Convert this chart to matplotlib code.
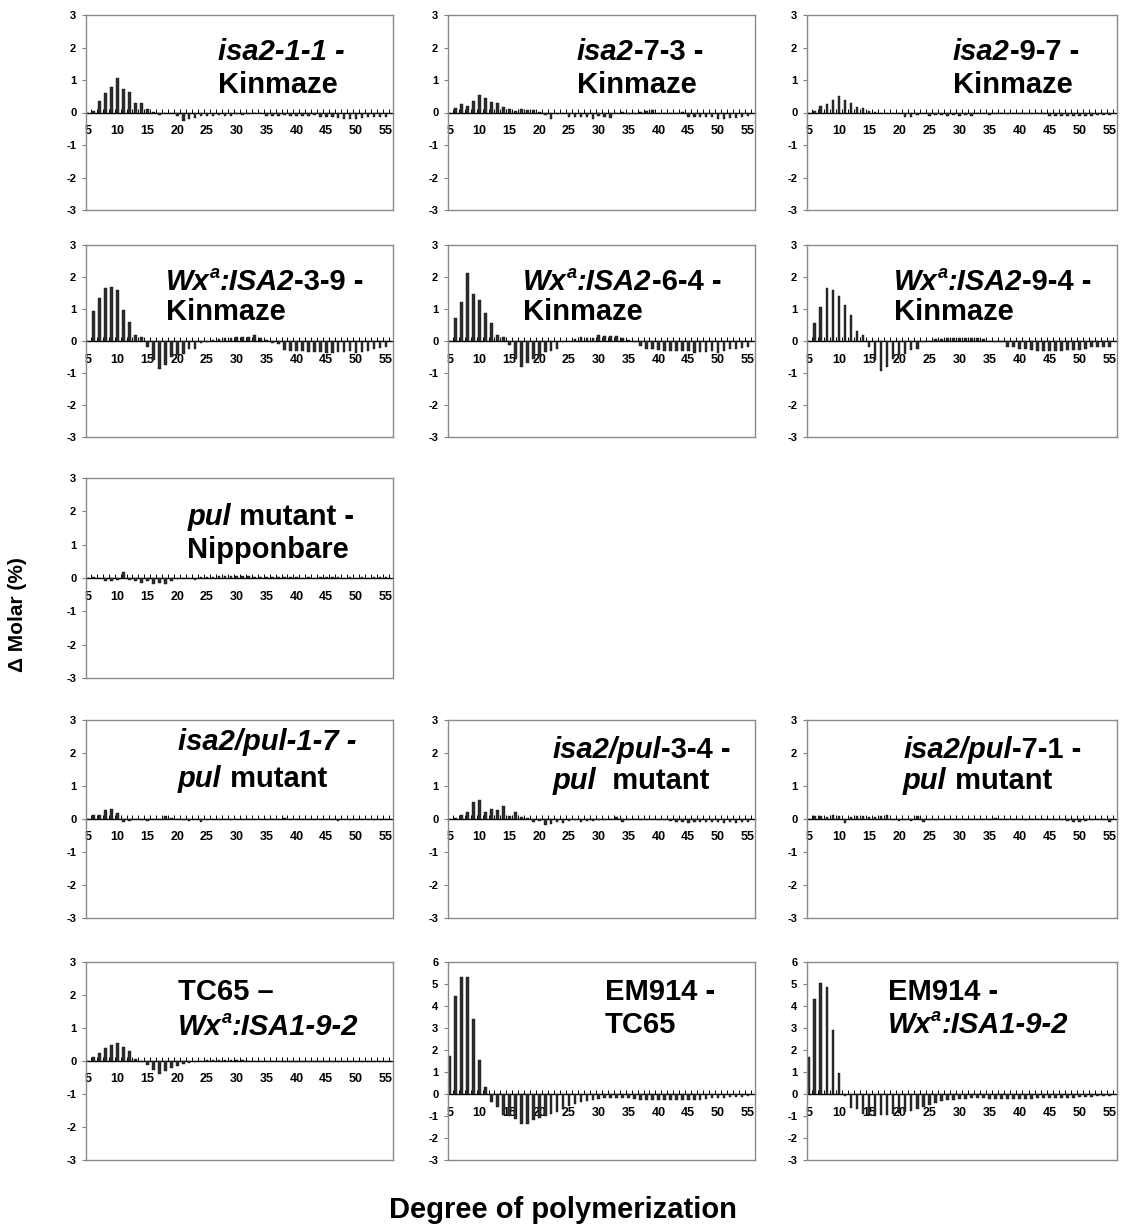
import numpy as np
import matplotlib.pyplot as plt

plt.rcParams['font.family'] = ['Liberation Sans', 'DejaVu Sans']
plt.rcParams['axes.unicode_minus'] = False

# degree of polymerization (x categories)
dp = np.arange(5, 56)

# delta molar (%) for DP 5..55
isa2_1_1 = [0.0,
            0.05, 0.35, 0.6, 0.8, 1.07, 0.72, 0.62, 0.28, 0.28, 0.12,
            0.02, -0.07, 0.0, 0.0, -0.1, -0.25, -0.2, -0.18, -0.12, -0.1,
            -0.12, -0.08, -0.12, -0.1, -0.05, -0.08, -0.05, -0.03, -0.02, -0.12,
            -0.1, -0.12, -0.08, -0.1, -0.1, -0.12, -0.1, -0.08, -0.15, -0.15,
            -0.15, -0.18, -0.2, -0.2, -0.2, -0.18, -0.15, -0.15, -0.15, -0.15]
isa2_7_3 = [0.0,
            0.15, 0.25, 0.2, 0.35, 0.55, 0.45, 0.32, 0.28, 0.18, 0.1,
            0.05, 0.1, 0.08, 0.08, 0.02, -0.08, -0.2, -0.05, 0.0, -0.15,
            -0.15, -0.15, -0.15, -0.2, -0.12, -0.15, -0.18, 0.0, 0.02, -0.05,
            -0.05, 0.02, 0.05, 0.08, -0.02, 0.0, -0.02, -0.02, 0.02, -0.15,
            -0.15, -0.15, -0.15, -0.15, -0.2, -0.2, -0.18, -0.18, -0.15, -0.12]
isa2_9_7 = [0.0,
            0.05, 0.2, 0.25, 0.38, 0.52, 0.4, 0.3, 0.18, 0.15, 0.05,
            0.02, 0.0, 0.0, 0.0, -0.02, -0.15, -0.15, -0.08, -0.02, -0.1,
            -0.08, -0.08, -0.1, -0.08, -0.1, -0.08, -0.1, -0.02, -0.02, -0.08,
            -0.05, -0.02, -0.05, -0.02, -0.05, -0.05, -0.05, -0.02, -0.05, -0.1,
            -0.1, -0.1, -0.12, -0.12, -0.12, -0.1, -0.1, -0.08, -0.08, -0.08]
wx_isa2_3_9 = [0.0,
               0.95, 1.35, 1.65, 1.7, 1.58, 0.98, 0.6, 0.2, 0.12, -0.2,
               -0.6, -0.88, -0.75, -0.5, -0.45, -0.4, -0.25, -0.25, -0.05, -0.02,
               0.02, 0.05, 0.1, 0.1, 0.12, 0.12, 0.12, 0.2, 0.1, 0.02,
               -0.05, -0.1, -0.28, -0.3, -0.3, -0.3, -0.35, -0.35, -0.35, -0.38,
               -0.38, -0.35, -0.35, -0.3, -0.38, -0.35, -0.3, -0.25, -0.22, -0.2]
wx_isa2_6_4 = [0.0,
               0.72, 1.22, 2.12, 1.48, 1.28, 0.88, 0.55, 0.2, 0.12, -0.12,
               -0.55, -0.82, -0.7, -0.55, -0.5, -0.35, -0.3, -0.25, -0.02, 0.0,
               0.05, 0.12, 0.1, 0.1, 0.18, 0.15, 0.15, 0.15, 0.08, 0.02,
               -0.02, -0.15, -0.25, -0.25, -0.28, -0.3, -0.32, -0.32, -0.32, -0.32,
               -0.38, -0.35, -0.35, -0.32, -0.38, -0.3, -0.25, -0.25, -0.22, -0.2]
wx_isa2_9_4 = [0.0,
               0.55, 1.05, 1.65, 1.6, 1.42, 1.12, 0.82, 0.32, 0.18, -0.18,
               -0.6, -0.95, -0.8, -0.55, -0.45, -0.4, -0.28, -0.25, -0.02, 0.0,
               0.05, 0.05, 0.08, 0.08, 0.1, 0.08, 0.08, 0.08, 0.05, 0.0,
               -0.02, -0.02, -0.2, -0.2, -0.25, -0.25, -0.28, -0.3, -0.3, -0.3,
               -0.32, -0.3, -0.28, -0.28, -0.28, -0.25, -0.2, -0.2, -0.18, -0.18]
pul_nip = [0.0,
           0.02, 0.0, -0.08, -0.08, -0.05, 0.18, -0.05, -0.1, -0.15, -0.1,
           -0.18, -0.15, -0.18, -0.08, -0.03, 0.0, 0.0, -0.05, 0.02, 0.02,
           0.02, 0.06, 0.05, 0.05, 0.05, 0.05, 0.05, 0.03, 0.02, 0.03,
           0.02, 0.02, 0.02, 0.02, 0.02, 0.0, 0.02, 0.0, 0.02, 0.02,
           0.02, 0.02, 0.0, 0.02, 0.0, 0.02, 0.0, 0.03, 0.03, 0.02]
isa2_pul_1_7 = [0.0,
                0.12, 0.12, 0.28, 0.3, 0.18, -0.08, -0.05, 0.0, -0.02, -0.05,
                0.0, 0.0, 0.08, 0.02, 0.0, -0.02, -0.05, 0.0, -0.08, -0.03,
                0.0, 0.0, 0.0, -0.02, 0.0, 0.0, 0.0, 0.0, 0.0, 0.0,
                0.0, 0.0, 0.02, 0.0, 0.0, 0.0, 0.0, 0.0, 0.0, 0.0,
                0.0, -0.05, 0.0, -0.03, 0.0, 0.0, 0.0, -0.02, 0.0, 0.0]
isa2_pul_3_4 = [0.0,
                0.02, 0.12, 0.2, 0.52, 0.58, 0.22, 0.3, 0.28, 0.38, 0.1,
                0.22, 0.05, 0.02, -0.08, -0.05, -0.18, -0.15, -0.1, -0.12, -0.05,
                -0.02, -0.08, -0.05, -0.05, -0.03, -0.02, 0.0, 0.05, -0.08, -0.02,
                0.0, -0.02, -0.02, 0.0, -0.03, -0.03, -0.05, -0.1, -0.1, -0.12,
                -0.1, -0.1, -0.08, -0.1, -0.1, -0.12, -0.1, -0.12, -0.1, -0.1]
isa2_pul_7_1 = [0.0,
                0.08, 0.08, 0.05, 0.12, 0.08, -0.12, 0.05, 0.08, 0.1, 0.05,
                0.06, 0.08, 0.12, -0.02, -0.05, -0.02, -0.05, 0.08, -0.08, -0.02,
                -0.03, 0.0, 0.0, 0.0, 0.0, 0.0, 0.0, 0.0, 0.0, 0.0,
                0.02, 0.0, 0.0, 0.0, 0.0, -0.02, 0.0, 0.0, 0.0, 0.0,
                -0.03, -0.03, -0.05, -0.08, -0.08, -0.05, -0.03, 0.0, -0.03, -0.08]
tc65_wx_isa1 = [0.0,
                0.12, 0.25, 0.38, 0.5, 0.55, 0.42, 0.3, 0.05, -0.02, -0.12,
                -0.28, -0.38, -0.3, -0.2, -0.15, -0.08, -0.05, -0.02, 0.0, 0.02,
                0.02, 0.02, 0.02, 0.02, 0.02, 0.02, 0.0, 0.0, 0.0, 0.0,
                0.0, 0.0, -0.02, -0.02, -0.02, -0.02, -0.02, -0.02, -0.02, -0.02,
                -0.02, -0.02, -0.02, -0.02, -0.02, -0.02, -0.02, -0.02, -0.02, -0.02]
em914_tc65 = [1.72,
              4.45, 5.3, 5.3, 3.43, 1.55, 0.33, -0.35, -0.6, -0.95, -1.0,
              -1.15, -1.35, -1.35, -1.2, -1.1, -1.0, -0.9, -0.8, -0.7, -0.55,
              -0.45, -0.35, -0.3, -0.25, -0.22, -0.2, -0.2, -0.18, -0.18, -0.2,
              -0.22, -0.25, -0.25, -0.28, -0.28, -0.28, -0.28, -0.28, -0.28, -0.25,
              -0.25, -0.25, -0.22, -0.2, -0.2, -0.18, -0.15, -0.12, -0.12, -0.1]
em914_wx_isa1 = [1.7,
                 4.3, 5.05, 4.85, 2.9, 0.95, -0.1, -0.65, -0.7, -0.9, -0.95,
                 -1.0, -0.95, -0.95, -0.9, -0.85, -0.8, -0.75, -0.7, -0.6, -0.5,
                 -0.4, -0.32, -0.28, -0.25, -0.22, -0.22, -0.2, -0.2, -0.2, -0.22,
                 -0.22, -0.22, -0.22, -0.22, -0.22, -0.22, -0.22, -0.2, -0.2, -0.2,
                 -0.2, -0.18, -0.18, -0.18, -0.15, -0.15, -0.12, -0.1, -0.1, -0.1]

# panel titles: segments of (text, style) -> i = italic, n = normal, s = superscript
titles = [
    ([("isa2-1-1 -", "i")], [("Kinmaze", "n")]),
    ([("isa2", "i"), ("-7-3 -", "n")], [("Kinmaze", "n")]),
    ([("isa2", "i"), ("-9-7 -", "n")], [("Kinmaze", "n")]),
    ([("Wx", "i"), ("a", "s"), (":ISA2", "i"), ("-3-9 -", "n")], [("Kinmaze", "n")]),
    ([("Wx", "i"), ("a", "s"), (":ISA2", "i"), ("-6-4 -", "n")], [("Kinmaze", "n")]),
    ([("Wx", "i"), ("a", "s"), (":ISA2", "i"), ("-9-4 -", "n")], [("Kinmaze", "n")]),
    ([("pul", "i"), (" mutant -", "n")], [("Nipponbare", "n")]),
    ([("isa2/pul-1-7 -", "i")], [("pul", "i"), (" mutant", "n")]),
    ([("isa2/pul", "i"), ("-3-4 -", "n")], [("pul", "i"), ("  mutant", "n")]),
    ([("isa2/pul", "i"), ("-7-1 -", "n")], [("pul", "i"), (" mutant", "n")]),
    ([("TC65 \u2013", "n")], [("Wx", "i"), ("a", "s"), (":ISA1-9-2", "i")]),
    ([("EM914 -", "n")], [("TC65", "n")]),
    ([("EM914 -", "n")], [("Wx", "i"), ("a", "s"), (":ISA1-9-2", "i")]),
]
series = [isa2_1_1, isa2_7_3, isa2_9_7, wx_isa2_3_9, wx_isa2_6_4, wx_isa2_9_4,
          pul_nip, isa2_pul_1_7, isa2_pul_3_4, isa2_pul_7_1,
          tc65_wx_isa1, em914_tc65, em914_wx_isa1]
grid_pos = [(0, 0), (0, 1), (0, 2), (1, 0), (1, 1), (1, 2), (2, 0),
            (3, 0), (3, 1), (3, 2), (4, 0), (4, 1), (4, 2)]
ymax = [3] * 11 + [6, 6]
# title placement (axes fraction): x, baseline line 1, baseline line 2
title_xy = [(0.43, 0.77, 0.60), (0.42, 0.77, 0.60), (0.47, 0.77, 0.60),
            (0.26, 0.765, 0.61), (0.245, 0.765, 0.61), (0.28, 0.765, 0.61),
            (0.33, 0.765, 0.60),
            (0.30, 0.85, 0.66), (0.34, 0.81, 0.65), (0.31, 0.81, 0.65),
            (0.30, 0.81, 0.63), (0.51, 0.81, 0.64), (0.26, 0.81, 0.64)]

W, H = 1125, 1229
fig = plt.figure(figsize=(W / 100, H / 100), dpi=100)
col_px = [(86, 393), (448, 755), (807, 1117)]
row_px = [(15, 210), (245, 437), (478, 678), (720, 918), (962, 1160)]

TSIZE = 21
renderer = fig.canvas.get_renderer()


def rich_line(ax, x, y, segs):
    for txt, st in segs:
        size = TSIZE * 0.62 if st == "s" else TSIZE
        yy = y + (TSIZE * 0.42 / 72 * 100) / ax.bbox.height if st == "s" else y
        t = ax.text(x, yy, txt, transform=ax.transAxes, fontsize=size,
                    fontweight="bold", fontstyle="italic" if st in "is" else "normal",
                    ha="left", va="baseline")
        x += t.get_window_extent(renderer).width / ax.bbox.width


for i, vals in enumerate(series):
    r, c = grid_pos[i]
    x0, x1 = col_px[c]
    y0, y1 = row_px[r]
    ax = fig.add_axes([x0 / W, 1 - y1 / H, (x1 - x0) / W, (y1 - y0) / H])
    ax.bar(dp, vals, width=0.45, color="#2e2e2e", edgecolor="#111111", linewidth=0.3)
    ax.set_xlim(4.7, 56.2)
    ax.set_ylim(-3, ymax[i])
    ax.set_xticks([])
    ax.set_yticks(range(-3, ymax[i] + 1))
    ax.tick_params(axis="y", length=3, width=0.8, color="#808080", labelsize=8, pad=4)
    for lab in ax.get_yticklabels():
        lab.set_fontweight("bold")
    for sp in ax.spines.values():
        sp.set_color("#8a8a8a")
        sp.set_linewidth(1.0)

    # category axis drawn through zero, labels below it
    sec = ax.secondary_xaxis(3 / (3 + ymax[i]))
    sec.set_alignment("bottom")
    sec.spines["bottom"].set_color("black")
    sec.spines["bottom"].set_linewidth(1.0)
    sec.set_xticks(np.arange(5, 56, 5))
    sec.set_xticks(np.arange(5.5, 56, 1), minor=True)
    sec.tick_params(which="major", length=0, labelsize=9, pad=9)
    sec.tick_params(which="minor", direction="in", length=3, width=0.7, color="black")
    for lab in sec.get_xticklabels():
        lab.set_fontweight("bold")

    tx, ty1, ty2 = title_xy[i]
    rich_line(ax, tx, ty1, titles[i][0])
    rich_line(ax, tx, ty2, titles[i][1])

fig.text(0.016, 0.5, "\u0394 Molar (%)", rotation=90, fontsize=15,
         fontweight="bold", ha="center", va="center")
fig.text(0.5, 1 - 1210 / H, "Degree of polymerization", fontsize=21,
         fontweight="bold", ha="center", va="center")

fig.savefig("out.png", dpi=100)
